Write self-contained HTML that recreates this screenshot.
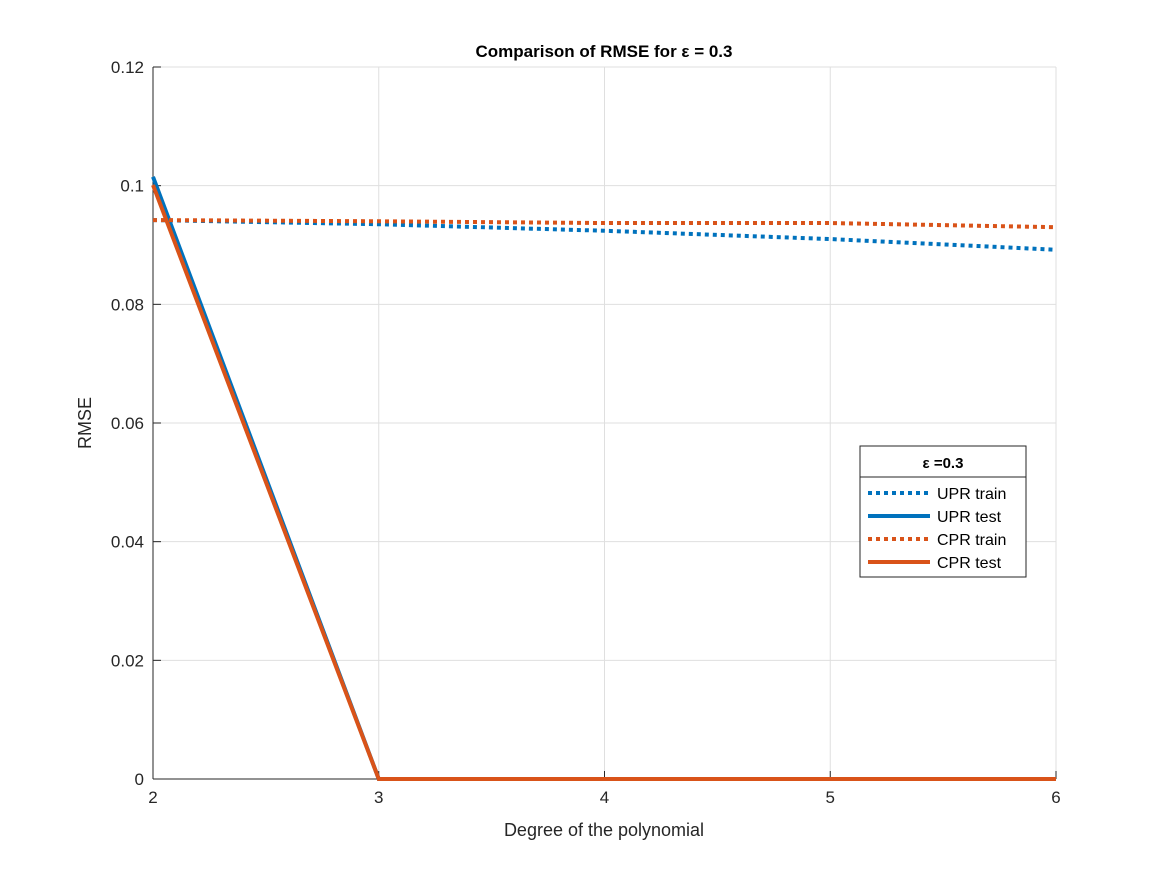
<!DOCTYPE html>
<html><head><meta charset="utf-8"><style>
body{margin:0;background:#fff;font-family:"Liberation Sans",sans-serif}
</style></head><body>
<svg id="chart" width="1167" height="875" style="font-family:'Liberation Sans',sans-serif">
<rect width="1167" height="875" fill="#fff"/>
<g id="grid"></g>
<g id="axes"></g>
<g id="series"></g>
<text x="604" y="57" text-anchor="middle" font-size="17" font-weight="bold">Comparison of RMSE for ε = 0.3</text>
<text x="604" y="836" text-anchor="middle" font-size="18" fill="#262626">Degree of the polynomial</text>
<text transform="translate(91,423) rotate(-90)" text-anchor="middle" font-size="18" fill="#262626">RMSE</text>
<g>
<rect x="860" y="446" width="166" height="131" fill="#fff" stroke="#262626" stroke-width="1"/>
<line x1="860" y1="477" x2="1026" y2="477" stroke="#262626"/>
<text x="943" y="468" text-anchor="middle" font-size="15" font-weight="bold">ε =0.3</text>
<g id="legend-entries"></g>
</g>
</svg>
<script>
const degrees=[2,3,4,5,6];
const uprTrain=[0.0942,0.0935,0.0924,0.0910,0.0892];
const uprTest=[0.1015,0,0,0,0];
const cprTrain=[0.0942,0.0940,0.0937,0.0937,0.0930];
const cprTest=[0.1001,0,0,0,0];
const xTicks=[2,3,4,5,6];
const yTicks=[0,0.02,0.04,0.06,0.08,0.1,0.12];
const yTickLabels=["0","0.02","0.04","0.06","0.08","0.1","0.12"];
const seriesNames=["UPR train","UPR test","CPR train","CPR test"];
const L=153,R=1056,T=67,B=779;
const sx=v=>L+(v-2)/(6-2)*(R-L);
const sy=v=>B-v/0.12*(B-T);
const NS="http://www.w3.org/2000/svg";
function mk(tag,attrs,parent){const e=document.createElementNS(NS,tag);for(const k in attrs)e.setAttribute(k,attrs[k]);parent.appendChild(e);return e;}
const grid=document.getElementById('grid'),axes=document.getElementById('axes'),ser=document.getElementById('series'),leg=document.getElementById('legend-entries');
mk('rect',{x:L,y:T,width:R-L,height:B-T,fill:'#fff'},grid);
xTicks.forEach(t=>{const l=mk('line',{x1:sx(t),x2:sx(t),y1:T,y2:B,stroke:'#dfdfdf'},grid);

mk('line',{x1:sx(t),x2:sx(t),y1:B,y2:B-8,stroke:'#262626'},axes);
const tx=mk('text',{x:sx(t),y:B+24,'text-anchor':'middle','font-size':'17',fill:'#262626'},axes);tx.textContent=t;
});
yTicks.forEach((t,i)=>{const l=mk('line',{x1:L,x2:R,y1:sy(t),y2:sy(t),stroke:'#dfdfdf'},grid);

mk('line',{x1:L,x2:L+8,y1:sy(t),y2:sy(t),stroke:'#262626'},axes);
const tx=mk('text',{x:L-9,y:sy(t)+6,'text-anchor':'end','font-size':'17',fill:'#262626'},axes);tx.textContent=yTickLabels[i];
});
mk('line',{x1:L,x2:L,y1:T,y2:B,stroke:'#262626'},axes);
mk('line',{x1:L,x2:R,y1:B,y2:B,stroke:'#262626'},axes);
const styles=[{c:'#0072BD',d:'4 4'},{c:'#0072BD',d:''},{c:'#D95319',d:'4 4'},{c:'#D95319',d:''}];
[uprTrain,uprTest,cprTrain,cprTest].forEach((vals,i)=>{
const p=mk('polyline',{points:degrees.map((d,j)=>sx(d)+','+sy(vals[j])).join(' '),fill:'none',stroke:styles[i].c,'stroke-width':'4','stroke-dasharray':styles[i].d},ser);


const y=493+i*23;
mk('line',{x1:868,x2:930,y1:y,y2:y,stroke:styles[i].c,'stroke-width':'4','stroke-dasharray':styles[i].d},leg);
const t=mk('text',{x:937,y:y+6,'font-size':'16'},leg);t.textContent=seriesNames[i];


});
</script>
</body></html>
